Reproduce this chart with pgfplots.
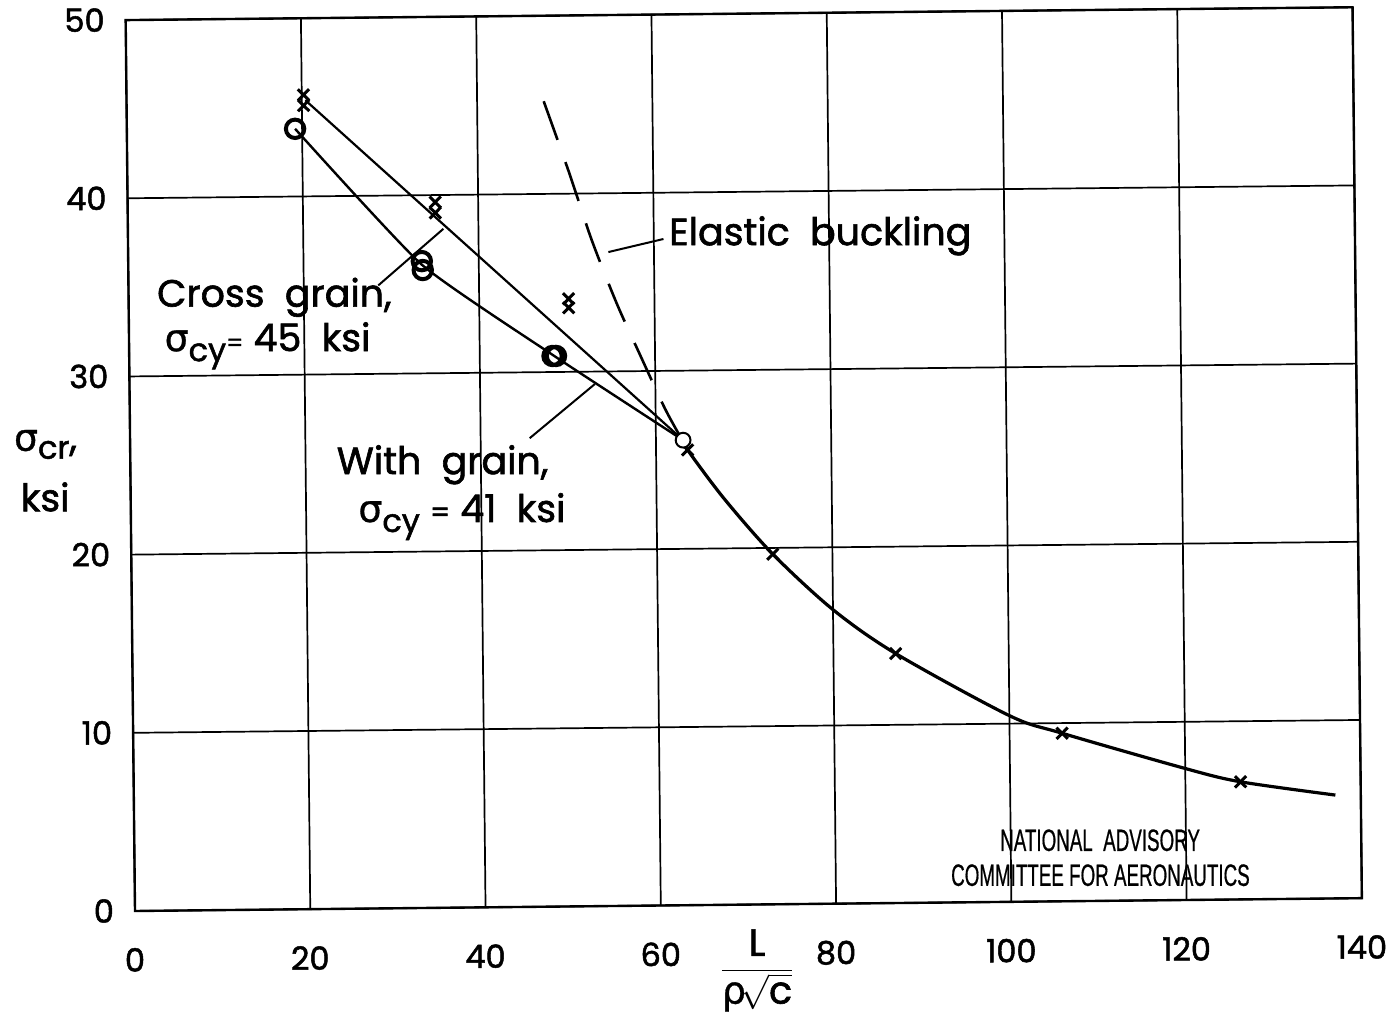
\documentclass[border=0pt]{standalone}
\usepackage{fontspec}
\setmainfont{Poppins}[FakeBold=1.6]
\newfontfamily\greek{DejaVu Sans}[FakeBold=0.8]
\newfontfamily\nacafont{Liberation Sans}[FakeBold=0.8]
\usepackage{graphicx}
\usepackage{pgfplots}
\pgfplotsset{compat=1.18}
\begin{document}
\begin{tikzpicture}
\begin{axis}[
  scale only axis, width=613.5pt, height=445.5pt,
  at={(0,0)}, anchor=origin,
  rotate around={0.6:(0,0)},
  xmin=0, xmax=140, ymin=0, ymax=50,
  xtick={0,20,...,140}, ytick={0,10,...,50},
  grid=major, major grid style={black, line width=0.85pt},
  axis line style={line width=1.2pt},
  major tick length=0pt,
  tick label style={font=\fontsize{16}{18}\selectfont},
  /pgf/number format/assume math mode=true,
  xticklabel style={yshift=-15pt},
  yticklabel style={xshift=-7pt},
  clip=false,
]
% dashed elastic buckling curve
\addplot[smooth, line width=1.3pt, dash pattern=on 20.5pt off 11.8pt] coordinates {
 (47.6,45.2) (50.4,41.2) (52.9,37.4) (55.7,33.8) (58.3,30.9) (61.05,27.9) (62.9,26.2)};
% with grain curve
\addplot[smooth, tension=0.3, line width=1.2pt] coordinates {
 (19.2,43.8) (33.5,36.1) (48.5,30.9) (63.1,26.1)};
% cross grain line
\addplot[line width=1.1pt] coordinates {(20.4,45.4) (63.1,26.1)};
% elastic curve
\addplot[smooth, tension=0.5, line width=1.6pt] coordinates {
 (63.1,26.1) (63.6,25.55) (67.7,22.8) (73.2,19.65) (80,16.5) (87.1,14.0)
 (100,10.45) (106,9.43) (120,7.38) (126.3,6.6) (137.1,5.8)};
% cross marks
\addplot[only marks, mark=x, mark size=4pt, mark options={line width=1.5pt}] coordinates {
 (20.2,45.7) (20.2,45.1) (35.1,39.6) (35.1,39.0) (50.2,34.1) (50.2,33.6)
 (63.6,25.55) (73.2,19.65) (87.1,14.0) (106.0,9.43) (126.3,6.6)};
% circles (with grain)
\addplot[only marks, mark=o, mark size=4.6pt, mark options={line width=2pt}] coordinates {
 (19.2,43.8) (33.5,36.3) (33.6,35.8) (48.3,30.9) (48.7,30.9)};
\addplot[only marks, mark=*, mark size=3.7pt, mark options={line width=1pt, fill=white, draw=black}] coordinates {
 (63.1,26.1)};
% leader lines
\addplot[line width=1pt] coordinates {(54.8,36.7) (61.1,37.4)};
\addplot[line width=1pt] coordinates {(28.5,34.96) (36.0,38.1)};
\addplot[line width=1pt] coordinates {(45.6,26.3) (53.1,29.3)};
% annotations
\node[anchor=base west, inner sep=0pt, font=\fontsize{19}{24}\selectfont] at (axis cs:61.7,37.05) {Elastic\ \ buckling};
\node[anchor=base west, inner sep=0pt, font=\fontsize{19}{24}\selectfont] at (axis cs:3.2,33.9) {Cross\ \ grain,};
\node[anchor=base west, inner sep=0pt, font=\fontsize{19}{24}\selectfont] at (axis cs:4.0,31.4) {{\greek σ}\raisebox{-5pt}{\fontsize{16}{16}\selectfont cy}{\fontsize{12}{12}\selectfont =}\ 45\ \ ksi};
\node[anchor=base west, inner sep=0pt, font=\fontsize{19}{24}\selectfont] at (axis cs:23.5,24.4) {With\ \ grain,};
\node[anchor=base west, inner sep=0pt, font=\fontsize{19}{24}\selectfont] at (axis cs:25.9,21.7) {{\greek σ}\raisebox{-5pt}{\fontsize{16}{16}\selectfont cy}\ {\fontsize{14}{14}\selectfont =}\ 41\ \ ksi};
% axis labels
\node[anchor=base west, inner sep=0pt, font=\fontsize{19}{24}\selectfont] at (axis cs:-13.3,25.9) {{\greek σ}\raisebox{-4pt}{\fontsize{16}{16}\selectfont cr},};
\node[anchor=base west, inner sep=0pt, font=\fontsize{19}{24}\selectfont] at (axis cs:-12.6,22.5) {ksi};
\node[inner sep=0pt, font=\fontsize{19}{24}\selectfont] at (axis cs:70.9,-3.7) {$\displaystyle\frac{\mbox{L}}{\mbox{\greek ρ}\!\sqrt{\mbox{c}}}$};
% NACA
\node[font=\nacafont\fontsize{15.4}{16}\selectfont] at (axis cs:110.2,3.4) {\scalebox{0.61}[1]{NATIONAL\ \ ADVISORY}};
\node[font=\nacafont\fontsize{15.4}{16}\selectfont] at (axis cs:110.2,1.44) {\scalebox{0.61}[1]{COMMITTEE FOR AERONAUTICS}};
\end{axis}
\path (-67.5pt,-56pt) rectangle (631.5pt,455.5pt);
\end{tikzpicture}
\end{document}
